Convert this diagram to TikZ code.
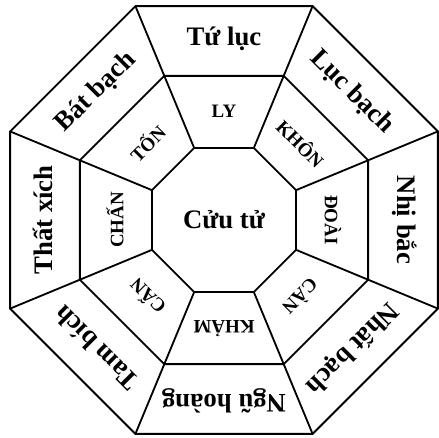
\documentclass[tikz,border=0pt]{standalone}
\usepackage{fontspec}
\setmainfont{Liberation Serif}
\usetikzlibrary{calc}
\tikzset{
    ringline/.style={line width=1.3pt, line join=miter},
    palace/.style={font=\bfseries\fontsize{19}{20}\selectfont, inner sep=0pt},
    trigram/.style={font=\bfseries\fontsize{13.5}{14}\selectfont, inner sep=0pt},
}

\begin{document}
\begin{tikzpicture}[x=0.025cm, y=0.025cm]
    \useasboundingbox (0,0) rectangle (439,437);
    \coordinate (c) at (224,217);

    % corners of the three octagons
    \foreach \k in {0,...,7} {
        \coordinate (i\k) at ($(c)+(22.5+45*\k:78)$);
        \coordinate (m\k) at ($(c)+(22.5+45*\k:156)$);
        \coordinate (o\k) at ($(c)+(22.5+45*\k:231.5)$);
    }

    % rings
    \draw[ringline] (o0) -- (o1) -- (o2) -- (o3) -- (o4) -- (o5) -- (o6) -- (o7) -- cycle;
    \draw[ringline] (m0) -- (m1) -- (m2) -- (m3) -- (m4) -- (m5) -- (m6) -- (m7) -- cycle;
    \draw[ringline] (i0) -- (i1) -- (i2) -- (i3) -- (i4) -- (i5) -- (i6) -- (i7) -- cycle;

    % spokes
    \foreach \k in {0,...,7}
        \draw[ringline] (i\k) -- (m\k) -- (o\k);

    % center
    \node[palace] (cuutu) at (c) {Cửu tử};

    % labels
    \foreach \ang/\outer/\inner [count=\n] in {
        90/Tứ lục/LY, 45/Lục bạch/KHÔN, 0/Nhị bắc/ĐOÀI, -45/Nhất bạch/CÀN,
        -90/Ngũ hoàng/KHẢM, -135/Tam bích/CẤN, 180/Thất xích/CHẤN, 135/Bát bạch/TỐN} {
        \node[trigram, rotate=\ang-90] (gua\n) at ($(c)+(\ang:109)$) {\inner};
        \node[palace, rotate=\ang-90] (sao\n) at ($(c)+(\ang:181)$) {\outer};
    }
\end{tikzpicture}
\end{document}
